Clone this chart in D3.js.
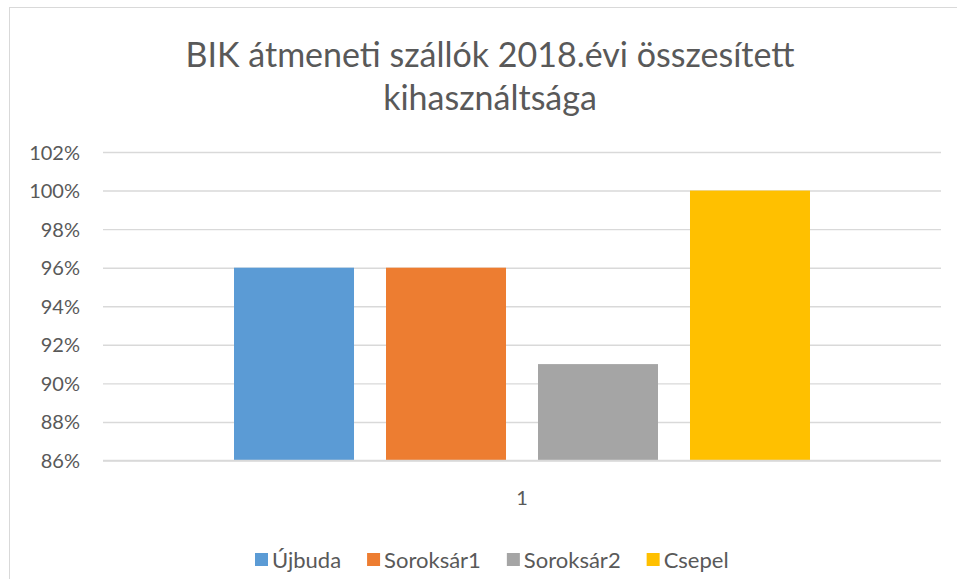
<!DOCTYPE html>
<html>
<head>
<meta charset="utf-8">
<script src="https://cdn.jsdelivr.net/npm/d3@7"></script>
<style>
  html, body { margin: 0; padding: 0; background: #ffffff; }
  svg { display: block; }
  text { font-family: Lato, "Open Sans", sans-serif; fill: #595959; }
</style>
</head>
<body>
<svg id="chart" width="957" height="579"></svg>
<script>
const titleLines = ["BIK átmeneti szállók 2018.évi összesített", "kihasználtsága"];
const categories = ["1"];
const seriesNames = ["Újbuda", "Soroksár1", "Soroksár2", "Csepel"];
const seriesColors = ["#5b9bd5", "#ed7d31", "#a5a5a5", "#ffc000"];
const seriesValues = [[0.96], [0.96], [0.91], [1.00]];
const yTicks = [0.86, 0.88, 0.90, 0.92, 0.94, 0.96, 0.98, 1.00, 1.02];

const W = 957, H = 579;
const svg = d3.select("#chart");

// chart frame
svg.append("rect")
  .attr("x", 9.5).attr("y", 7.5)
  .attr("width", 980).attr("height", 600)
  .attr("fill", "#fff").attr("stroke", "#d9d9d9").attr("stroke-width", 1);

const plot = { left: 103, right: 941, top: 152, bottom: 460.5 };

// title
const title = svg.append("g");
titleLines.forEach((t, i) => {
  title.append("text")
    .attr("x", 490).attr("y", 67 + i * 43)
    .attr("text-anchor", "middle")
    .style("font-size", "34px")
    .text(t);
});

const y = d3.scaleLinear().domain([0.86, 1.02]).range([plot.bottom, plot.top]);

const x0 = d3.scaleBand().domain(categories).range([plot.left, plot.right])
  .paddingInner(0.1853).paddingOuter(0.1853);
const x1 = d3.scaleBand().domain(seriesNames).range([0, x0.bandwidth()])
  .paddingInner(0.2105).paddingOuter(0);

// gridlines
const yAxis = d3.axisLeft(y).tickValues(yTicks)
  .tickFormat(d3.format(".0%"))
  .tickSize(-(plot.right - plot.left)).tickPadding(23);
const gy = svg.append("g").attr("transform", `translate(${plot.left},0)`).call(yAxis);
gy.select(".domain").remove();
gy.selectAll(".tick line").attr("stroke", "#d9d9d9").attr("stroke-width", 1.4);
gy.selectAll(".tick text").style("font-size", "20px").attr("fill", "#595959")
  .attr("dy", "0.35em");

// bars
const groups = svg.append("g").selectAll("g")
  .data(categories).join("g")
  .attr("transform", d => `translate(${x0(d)},0)`);
groups.selectAll("rect")
  .data((d, ci) => seriesNames.map((s, si) => ({ s, si, v: seriesValues[si][ci] })))
  .join("rect")
  .attr("x", d => x1(d.s))
  .attr("width", x1.bandwidth())
  .attr("y", d => y(d.v))
  .attr("height", d => y(0.86) - y(d.v))
  .attr("fill", d => seriesColors[d.si]);

// baseline
svg.append("line")
  .attr("x1", plot.left).attr("x2", plot.right)
  .attr("y1", y(0.86)).attr("y2", y(0.86))
  .attr("stroke", "#d9d9d9").attr("stroke-width", 1.4);

// x labels
const xAxis = d3.axisBottom(x0).tickSize(0).tickPadding(30);
const gx = svg.append("g").attr("transform", `translate(0,${plot.bottom})`).call(xAxis);
gx.select(".domain").remove();
gx.selectAll(".tick text").style("font-size", "20px").attr("fill", "#595959");

// legend
const legend = svg.append("g");
let lx = 255;
const ly = 560;
seriesNames.forEach((name, i) => {
  legend.append("rect")
    .attr("x", lx).attr("y", ly - 7)
    .attr("width", 13).attr("height", 13)
    .attr("fill", seriesColors[i]);
  const t = legend.append("text")
    .attr("x", lx + 17).attr("y", ly)
    .attr("dy", "0.35em")
    .style("font-size", "22px")
    .text(name);
  lx += 17 + t.node().getComputedTextLength() + 26;
});
</script>
</body>
</html>
